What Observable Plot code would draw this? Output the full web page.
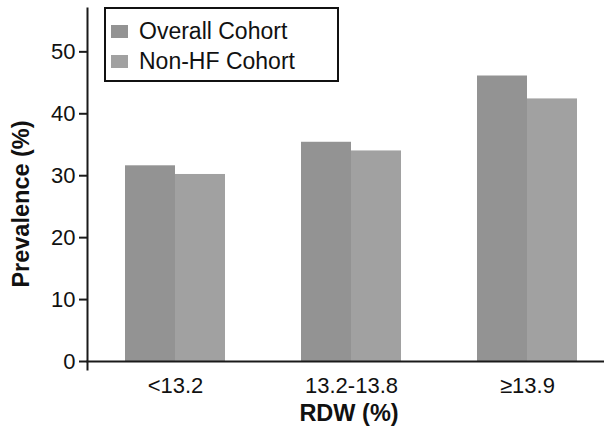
<!DOCTYPE html>
<html>
<head>
<meta charset="utf-8">
<script src="https://cdn.jsdelivr.net/npm/d3@7"></script>
<script src="https://cdn.jsdelivr.net/npm/@observablehq/plot@0.6"></script>
<style>
  html, body { margin: 0; padding: 0; background: #fff; }
  #wrap { position: relative; width: 604px; height: 440px; font-family: "Liberation Sans", Arial, sans-serif; color: #111; }
  #chart svg { position: absolute; left: 0; top: 0; }
  .legend { position: absolute; left: 104px; top: 7px; width: 231px; height: 71px; border: 2px solid #111; background: #fff; }
  .legend .row { position: absolute; left: 0; height: 30px; display: flex; align-items: center; font-size: 23px; line-height: 1; white-space: nowrap; }
  .legend .sw { width: 17px; height: 13px; margin-left: 5px; margin-right: 11px; flex: none; }
  .title { position: absolute; font-weight: bold; font-size: 23.5px; line-height: 1; white-space: nowrap; }
  #xtitle { left: 349px; top: 401.8px; transform: translateX(-50%); }
  #ytitle { left: 21.5px; top: 203.5px; transform: translate(-50%, -50%) rotate(-90deg); }
</style>
</head>
<body>
<div id="wrap">
  <div id="chart"></div>
  <div class="legend" id="legend"></div>
  <div class="title" id="xtitle"></div>
  <div class="title" id="ytitle"></div>
</div>
<script>
// ---- data ----
const categories = ["<13.2", "13.2-13.8", "\u226513.9"];
const cohorts = ["Overall Cohort", "Non-HF Cohort"];
const overallValues = [31.6, 35.4, 46.1];
const nonHFValues = [30.2, 34.0, 42.4];
const yTicks = [0, 10, 20, 30, 40, 50];
const xTitle = "RDW (%)";
const yTitle = "Prevalence (%)";
const barColors = ["#939393", "#a1a1a1"];

const series = [overallValues, nonHFValues];
const data = categories.flatMap((cat, i) =>
  cohorts.map((cohort, j) => ({ cat, cohort, value: series[j][i] }))
);

const axisColor = "#1a1a1a";

const chart = Plot.plot({
  width: 604,
  height: 440,
  marginLeft: 87,
  marginRight: 7,
  marginTop: 8,
  marginBottom: 79,
  style: { fontFamily: "'Liberation Sans', Arial, sans-serif", fontSize: "22px", color: "#111", background: "transparent", overflow: "visible" },
  fx: { domain: categories, range: [87, 615], paddingInner: 0, paddingOuter: 0, label: null },
  x: { domain: cohorts, paddingInner: 0, paddingOuter: 0.7426, axis: null },
  y: { domain: [0, 57], label: null },
  color: { domain: cohorts, range: barColors },
  marks: [
    Plot.barY(data, { fx: "cat", x: "cohort", y: "value", fill: "cohort" }),
    Plot.frame({ anchor: "bottom", facet: "super", stroke: axisColor, strokeWidth: 2 }),
    Plot.frame({ anchor: "left", facet: "super", stroke: axisColor, strokeWidth: 2, insetBottom: -8 }),
    Plot.axisY({ ticks: yTicks, tickSize: 8, tickPadding: 4, stroke: axisColor, strokeWidth: 2, fontSize: "22px", label: null }),
    Plot.axisFx({ anchor: "bottom", tickSize: 0, tickPadding: 16, fontSize: "22px", label: null })
  ]
});
document.getElementById("chart").appendChild(chart);

// legend inside the plot area
const legend = document.getElementById("legend");
cohorts.forEach((c, i) => {
  const row = document.createElement("div");
  row.className = "row";
  row.style.top = (7.5 + 30 * i) + "px";
  const sw = document.createElement("span");
  sw.className = "sw";
  sw.style.background = barColors[i];
  const t = document.createElement("span");
  t.textContent = c;
  row.appendChild(sw);
  row.appendChild(t);
  legend.appendChild(row);
});
document.getElementById("xtitle").textContent = xTitle;
document.getElementById("ytitle").textContent = yTitle;
</script>
</body>
</html>
